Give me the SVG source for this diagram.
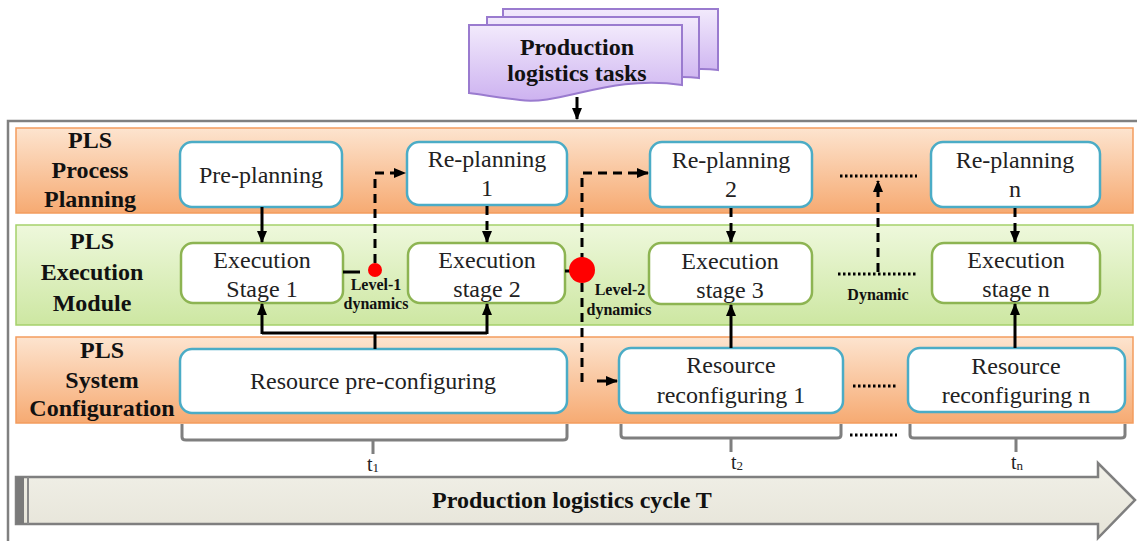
<svg xmlns="http://www.w3.org/2000/svg" width="1137" height="541" viewBox="0 0 1137 541">
  <style>
    .lbl { font-family: "Liberation Serif", "DejaVu Serif", serif; font-weight: bold; font-size: 24px; fill: #111; text-anchor: middle; }
    .txt { font-family: "Liberation Serif", "DejaVu Serif", serif; font-size: 24px; fill: #222; text-anchor: middle; }
    .small { font-family: "Liberation Serif", "DejaVu Serif", serif; font-weight: bold; font-size: 16px; fill: #111; text-anchor: middle; }
    .tlab { font-family: "Liberation Serif", "DejaVu Serif", serif; font-size: 20px; fill: #222; text-anchor: middle; }
    .plan { fill: #fff; stroke: #4bacc6; stroke-width: 2.5; }
    .exec { fill: #fff; stroke: #8db452; stroke-width: 2.5; }
    .solid { fill: none; stroke: #000; stroke-width: 3; }
    .dash { fill: none; stroke: #000; stroke-width: 3; stroke-dasharray: 9 6; }
    .dot { fill: none; stroke: #000; stroke-width: 3; stroke-dasharray: 2.5 2.5; }
    .brace { fill: none; stroke: #7f7f7f; stroke-width: 3; }
  </style>
  <defs>
    <linearGradient id="orange" x1="0" y1="0" x2="0" y2="1">
      <stop offset="0" stop-color="#fde4cf"/>
      <stop offset="1" stop-color="#f6aa72"/>
    </linearGradient>
    <linearGradient id="green" x1="0" y1="0" x2="0" y2="1">
      <stop offset="0" stop-color="#eef8dc"/>
      <stop offset="1" stop-color="#cde7a2"/>
    </linearGradient>
    <linearGradient id="lilac" x1="0" y1="0" x2="0" y2="1">
      <stop offset="0" stop-color="#f2eafc"/>
      <stop offset="1" stop-color="#cdb2f0"/>
    </linearGradient>
    <linearGradient id="beige" x1="0" y1="0" x2="0" y2="1">
      <stop offset="0" stop-color="#f1f0e8"/>
      <stop offset="1" stop-color="#e6e4d8"/>
    </linearGradient>
    <marker id="ah" markerUnits="userSpaceOnUse" markerWidth="12" markerHeight="12" viewBox="0 0 12 12" refX="11" refY="6" orient="auto">
      <path d="M0,1 L12,6 L0,11 Z" fill="#000"/>
    </marker>
  </defs>

  <!-- outer frame -->
  <path d="M8,541 V121 H1137" fill="none" stroke="#808080" stroke-width="2.5"/>

  <!-- swimlane bands -->
  <g id="band-planning">
    <rect x="16" y="128" width="1117" height="85" fill="url(#orange)" stroke="#f39c5e" stroke-width="1.5"/>
    <text class="lbl" x="90" y="148">PLS</text>
    <text class="lbl" x="90" y="178">Process</text>
    <text class="lbl" x="90" y="207">Planning</text>
  </g>
  <g id="band-execution">
    <rect x="16" y="225" width="1117" height="100" fill="url(#green)" stroke="#a5d16b" stroke-width="1.5"/>
    <text class="lbl" x="92" y="249">PLS</text>
    <text class="lbl" x="92" y="280">Execution</text>
    <text class="lbl" x="92" y="311">Module</text>
  </g>
  <g id="band-configuration">
    <rect x="16" y="337" width="1117" height="86" fill="url(#orange)" stroke="#f39c5e" stroke-width="1.5"/>
    <text class="lbl" x="102" y="358">PLS</text>
    <text class="lbl" x="102" y="388">System</text>
    <text class="lbl" x="102" y="416">Configuration</text>
  </g>

  <!-- task document stack -->
  <g id="tasks">
    <path d="M503,9 H718 V70 C690,66 660,74 640,76 L503,76 Z" fill="url(#lilac)" stroke="#9a7bcf" stroke-width="2"/>
    <path d="M487,17 H699 V78 C670,74 640,82 620,84 L487,84 Z" fill="url(#lilac)" stroke="#9a7bcf" stroke-width="2"/>
    <path d="M469,25 H682 V85 C610,74 560,106 520,100 C500,98 485,95 469,93 Z" fill="url(#lilac)" stroke="#9a7bcf" stroke-width="2"/>
    <text class="lbl" x="577" y="55">Production</text>
    <text class="lbl" x="577" y="81">logistics tasks</text>
  </g>

  <!-- planning nodes -->
  <g id="pre-planning">
    <rect class="plan" x="180" y="142" width="162" height="65" rx="12"/>
    <text class="txt" x="261" y="183">Pre-planning</text>
  </g>
  <g id="re-planning-1">
    <rect class="plan" x="407" y="142" width="160" height="63" rx="12"/>
    <text class="txt" x="487" y="167">Re-planning</text>
    <text class="txt" x="487" y="196">1</text>
  </g>
  <g id="re-planning-2">
    <rect class="plan" x="650" y="142" width="162" height="65" rx="12"/>
    <text class="txt" x="731" y="168">Re-planning</text>
    <text class="txt" x="731" y="197">2</text>
  </g>
  <g id="re-planning-n">
    <rect class="plan" x="931" y="142" width="169" height="65" rx="12"/>
    <text class="txt" x="1015" y="168">Re-planning</text>
    <text class="txt" x="1015" y="197">n</text>
  </g>

  <!-- execution nodes -->
  <g id="exec-1">
    <rect class="exec" x="181" y="243" width="162" height="60" rx="12"/>
    <text class="txt" x="262" y="268">Execution</text>
    <text class="txt" x="262" y="297">Stage 1</text>
  </g>
  <g id="exec-2">
    <rect class="exec" x="408" y="243" width="157" height="60" rx="12"/>
    <text class="txt" x="487" y="268">Execution</text>
    <text class="txt" x="487" y="297">stage 2</text>
  </g>
  <g id="exec-3">
    <rect class="exec" x="649" y="243" width="163" height="61" rx="12"/>
    <text class="txt" x="730" y="269">Execution</text>
    <text class="txt" x="730" y="298">stage 3</text>
  </g>
  <g id="exec-n">
    <rect class="exec" x="932" y="243" width="168" height="60" rx="12"/>
    <text class="txt" x="1016" y="268">Execution</text>
    <text class="txt" x="1016" y="297">stage n</text>
  </g>

  <!-- configuration nodes -->
  <g id="res-pre">
    <rect class="plan" x="180" y="349" width="387" height="64" rx="12"/>
    <text class="txt" x="373" y="389">Resource pre-configuring</text>
  </g>
  <g id="res-re-1">
    <rect class="plan" x="619" y="348" width="224" height="65" rx="12"/>
    <text class="txt" x="731" y="373">Resource</text>
    <text class="txt" x="731" y="403">reconfiguring 1</text>
  </g>
  <g id="res-re-n">
    <rect class="plan" x="908" y="348" width="217" height="64" rx="12"/>
    <text class="txt" x="1016" y="374">Resource</text>
    <text class="txt" x="1016" y="403">reconfiguring n</text>
  </g>

  <!-- connectors -->
  <g id="connectors">
    <path class="solid" d="M577,97 V119" marker-end="url(#ah)"/>
    <path class="solid" d="M262,207 V242" marker-end="url(#ah)"/>
    <path class="dash" d="M487,206 V242" marker-end="url(#ah)"/>
    <path class="dash" d="M731,208 V242" marker-end="url(#ah)"/>
    <path class="dash" d="M1015,208 V242" marker-end="url(#ah)"/>

    <!-- level-1 dynamics loop -->
    <path class="solid" d="M343,272 H360"/>
    <path class="dash" d="M375,263 V173 H405" marker-end="url(#ah)"/>
    <!-- level-2 dynamics loop -->
    <path class="solid" d="M565,271 H572"/>
    <path class="dash" d="M582,382 V173 H648" marker-end="url(#ah)"/>
    <path class="dash" d="M597,381 H617" marker-end="url(#ah)"/>

    <!-- resource supply -->
    <path class="solid" d="M375,349 V333"/>
    <path class="solid" d="M262,333 H487"/>
    <path class="solid" d="M262,334 V304" marker-end="url(#ah)"/>
    <path class="solid" d="M487,334 V304" marker-end="url(#ah)"/>
    <path class="solid" d="M731,348 V305" marker-end="url(#ah)"/>
    <path class="solid" d="M1015,348 V304" marker-end="url(#ah)"/>

    <!-- later stages -->
    <path class="dot" d="M840,176 H917"/>
    <path class="dot" d="M838,274 H917"/>
    <path class="dash" d="M878,272 V181" marker-end="url(#ah)"/>
    <path class="dot" d="M853,386 H896"/>
  </g>

  <!-- dynamics markers -->
  <g id="level-1">
    <circle cx="375" cy="270" r="7" fill="#f00"/>
    <text class="small" x="376" y="290">Level-1</text>
    <text class="small" x="376" y="309">dynamics</text>
  </g>
  <g id="level-2">
    <circle cx="582" cy="270" r="13" fill="#f00"/>
    <text class="small" x="620" y="295">Level-2</text>
    <text class="small" x="619" y="315">dynamics</text>
  </g>
  <g id="dynamic">
    <text class="small" x="878" y="300">Dynamic</text>
  </g>

  <!-- time spans -->
  <g id="spans">
    <path class="brace" d="M182,424 V437 Q182,440 186,440 H563 Q567,440 567,437 V424 M373,440 V454"/>
    <path class="brace" d="M621,424 V435 Q621,438 625,438 H837 Q841,438 841,435 V424 M731,438 V452"/>
    <path class="brace" d="M910,424 V435 Q910,438 914,438 H1121 Q1125,438 1125,435 V424 M1016,438 V452"/>
    <path class="dot" d="M850,435 H897"/>
    <text class="tlab" x="373" y="471">t<tspan font-size="13" dy="1">1</tspan></text>
    <text class="tlab" x="737" y="469">t<tspan font-size="13" dy="1">2</tspan></text>
    <text class="tlab" x="1017" y="469">t<tspan font-size="13" dy="1">n</tspan></text>
  </g>

  <!-- production logistics cycle -->
  <g id="cycle">
    <path d="M16,477 H1098 V463 L1135,500 L1098,538 V524 H16 Z" fill="url(#beige)" stroke="#7f7f7f" stroke-width="2.5"/>
    <rect x="16" y="477" width="8" height="47" fill="#7a7a7a"/>
    <line x1="28" y1="477" x2="28" y2="524" stroke="#8a8a8a" stroke-width="2"/>
    <text class="lbl" x="572" y="508">Production logistics cycle T</text>
  </g>
</svg>
